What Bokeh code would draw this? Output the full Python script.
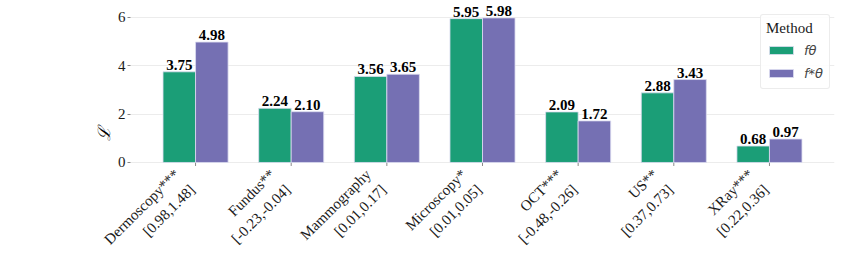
import math
from bokeh.plotting import figure
from bokeh.models import ColumnDataSource, Range1d, Legend, LegendItem
from bokeh.transform import dodge
from bokeh.core.properties import value
from bokeh.embed import file_html
from bokeh.resources import INLINE

# ---- data ----
domains = ["Dermoscopy", "Fundus", "Mammography", "Microscopy", "OCT", "US", "XRay"]
stars = ["***", "**", "", "*", "***", "**", "***"]
ci_low = [0.98, -0.23, 0.01, 0.01, -0.48, 0.37, 0.22]
ci_high = [1.48, -0.04, 0.17, 0.05, -0.26, 0.73, 0.36]
f_theta = [3.75, 2.24, 3.56, 5.95, 2.09, 2.88, 0.68]
f_theta_star = [4.98, 2.10, 3.65, 5.98, 1.72, 3.43, 0.97]
y_ticks = [0, 2, 4, 6]

labels = [f"{d}{s}\n[{lo:.2f},{hi:.2f}]" for d, s, lo, hi in zip(domains, stars, ci_low, ci_high)]
idx = list(range(len(domains)))

src = ColumnDataSource(dict(
    idx=idx,
    lab=labels,
    zero=[0] * len(idx),
    a=f_theta,
    b=f_theta_star,
    a_txt=[f"{v:.2f}" for v in f_theta],
    b_txt=[f"{v:.2f}" for v in f_theta_star],
))

GREEN = "#1b9e77"
PURPLE = "#7570b3"
SERIF = "Liberation Serif"

# layout: the frame spans the whole height so the rotated category labels are not clipped
X_LO, X_HI = -0.68, len(idx) - 1 + 0.68          # visible category span
p = figure(
    width=847, height=267,
    x_range=Range1d(X_LO - 0.366, X_HI), y_range=Range1d(-4.344, 6.70),
    output_backend="svg", toolbar_location=None,
    min_border_left=95, min_border_right=13, min_border_top=0, min_border_bottom=0,
)
p.outline_line_color = None
p.background_fill_color = "white"
p.xaxis.visible = False

# grid
p.xgrid.grid_line_color = None
p.ygrid.grid_line_color = "#ececec"
p.ygrid.grid_line_width = 1
p.yaxis.ticker = y_ticks
if "cross_bounds" in p.ygrid[0].properties():
    p.ygrid.cross_bounds = (X_LO, X_HI)

# category tick marks
p.scatter(x="idx", y="zero", source=src, marker="dash", angle=math.pi / 2, size=7,
          line_color="#888888", line_width=1)

bw = 0.34
off = 0.17
ra = p.vbar(x=dodge("idx", -off), top="a", bottom=0, width=bw, source=src,
            fill_color=GREEN, line_color="#dcdcf0", line_alpha=0.8, line_width=1)
rb = p.vbar(x=dodge("idx", off), top="b", bottom=0, width=bw, source=src,
            fill_color=PURPLE, line_color="#dcdcf0", line_alpha=0.8, line_width=1)

# value labels
for fld, dx in (("a", -off), ("b", off)):
    p.text(x=dodge("idx", dx), y=fld, text=fld + "_txt", source=src,
           text_font=value(SERIF), text_font_style="bold", text_font_size="15px",
           text_align="center", text_baseline="bottom", y_offset=-2, text_color="black")

# category labels (two lines, rotated 45 degrees, right aligned at the tick)
p.text(x="idx", y="zero", text="lab", source=src, angle=math.pi / 4,
       text_align="right", text_baseline="middle", x_offset=-11, y_offset=17,
       text_font=value(SERIF), text_font_size="15px", text_color="#1a1a1a",
       text_line_height=1.35)

# y axis at the left edge of the category span
yax = p.yaxis[0]
yax.fixed_location = X_LO
yax.axis_line_color = None
yax.major_tick_in = 0
yax.major_tick_out = 3
yax.major_tick_line_color = "#888888"
yax.minor_tick_line_color = None
yax.major_label_text_font = SERIF
yax.major_label_text_font_size = "15px"
yax.major_label_text_color = "#1a1a1a"
yax.major_label_standoff = 2
yax.axis_label = "ℒ"
yax.axis_label_text_font = SERIF
yax.axis_label_text_font_style = "italic"
yax.axis_label_text_font_size = "17px"
yax.axis_label_text_color = "black"
yax.axis_label_standoff = 1

legend = Legend(
    items=[LegendItem(label="fθ", renderers=[ra]), LegendItem(label="f*θ", renderers=[rb])],
    title="Method", location=(665, 178),
)
legend.title_text_font = SERIF
legend.title_text_font_size = "15px"
legend.title_text_font_style = "normal"
legend.title_text_color = "#1a1a1a"
legend.title_standoff = 3
legend.label_text_font = "DejaVu Sans"
legend.label_text_font_style = "italic"
legend.label_text_font_size = "13px"
legend.glyph_width = 30
legend.glyph_height = 10
legend.label_height = 20
legend.label_standoff = 8
legend.spacing = 3
legend.padding = 5
legend.border_line_color = "#d9d9d9"
legend.border_line_width = 1
legend.background_fill_alpha = 0.9
if "border_radius" in legend.properties():
    legend.border_radius = 3
p.add_layout(legend)

open("out.html", "w").write(file_html(p, INLINE))
